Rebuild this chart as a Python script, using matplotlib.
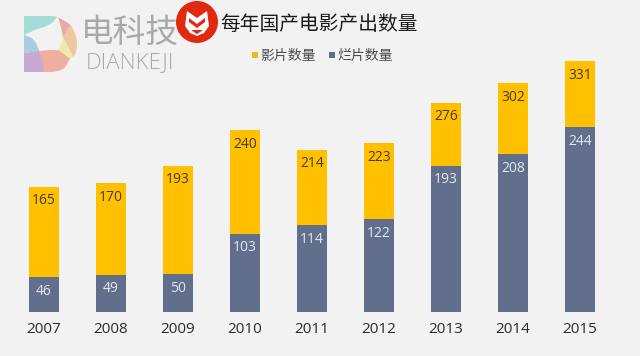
import matplotlib
matplotlib.use("Agg")
import matplotlib.pyplot as plt
from matplotlib.patches import Polygon, Circle, Rectangle, PathPatch
from matplotlib.path import Path

plt.rcParams['font.family'] = ['Noto Sans CJK SC', 'DejaVu Sans']

years = ['2007', '2008', '2009', '2010', '2011', '2012', '2013', '2014', '2015']
films = [165, 170, 193, 240, 214, 223, 276, 302, 331]
released = [46, 49, 50, 103, 114, 122, 193, 208, 244]
title = '每年国产电影产出数量'
legend_names = ['影片数量', '烂片数量']
BG, YEL, BLU = '#f2f2f2', '#FFC000', '#626F8C'
W, H = 640, 356

fig = plt.figure(figsize=(W / 100, H / 100), dpi=100, facecolor=BG)
ax = fig.add_axes([10.5 / W, (H - 311.7) / H, 603 / W, 271.7 / H], facecolor='none')
x = list(range(len(years)))
ax.bar(x, films, width=0.45, color=YEL, zorder=2)
ax.bar(x, released, width=0.45, color=BLU, zorder=3)
for i in x:
    ax.annotate(str(films[i]), (i, films[i]), xytext=(0, -10.2), textcoords='offset points',
                ha='center', va='center', fontsize=10, family='Open Sans', color='#4a3a14', zorder=4)
    ax.annotate(str(released[i]), (i, released[i]), xytext=(0, -10.2), textcoords='offset points',
                ha='center', va='center', fontsize=10, family='Open Sans', color='#e4e7ef', zorder=4)
ax.set_xlim(-0.5, 8.5)
ax.set_ylim(0, 359)
ax.set_yticks([])
ax.set_xticks(x, years, fontsize=11, family='Open Sans', color='#2b2b2b')
ax.tick_params(axis='x', length=0, pad=7.5)
for s in ax.spines.values():
    s.set_visible(False)

# Overlay in pixel coordinates for the header and logos
ov = fig.add_axes([0, 0, 1, 1], facecolor='none')
ov.set_xlim(0, W)
ov.set_ylim(H, 0)
ov.axis('off')

# D-shaped logo: coloured pieces around a background-coloured star
clip = PathPatch(Path([(24, 16), (52, 16), (70, 18), (77, 32), (77, 44), (77, 58), (68, 72), (50, 72), (24, 72), (24, 16)],
                      [1, 2, 4, 4, 4, 4, 4, 4, 2, 79]), fc='none', ec='none', transform=ov.transData)
ov.add_patch(clip)
pieces = [
    ('#a6dcd6', [(24, 16), (58, 16), (52, 23), (44, 27), (35, 30), (24, 35)]),
    ('#e9a9a4', [(58, 17), (73, 26), (63, 37), (61, 27)]),
    ('#efc8a2', [(71, 24), (80, 34), (80, 52), (73, 57), (63, 37)]),
    ('#eeeca8', [(63, 37), (73, 57), (70, 59), (64, 54), (58, 50), (61, 44)]),
    ('#eeaea0', [(40, 51), (50, 50), (58, 50), (64, 54), (70, 59), (62, 72), (43, 72)]),
    ('#c7a9d3', [(24, 53), (32, 52), (39, 50), (42, 58), (44, 72), (24, 72)]),
    ('#a9cbe4', [(24, 35), (32, 38), (36, 43), (39, 50), (32, 52), (24, 53)]),
]
for col, pts in pieces:
    p = Polygon(pts, closed=True, fc=col, ec='none')
    ov.add_patch(p)
    p.set_clip_path(clip)

ov.text(130, 33, '电科技', fontsize=23.5, color='#a8a8a8', ha='center', va='center', fontweight='light')
ov.text(130, 62.5, 'DIANKEJI', fontsize=16, color='#a8a8a8', ha='center', va='center', family='Open Sans', fontweight='light')

# Red mascot badge
ov.add_patch(Circle((197, 22), 21, fc='#E1290F', ec='none'))
ov.add_patch(Polygon([(187, 11), (197, 18), (207, 11), (209, 26), (204, 33), (197, 36), (190, 33), (185, 26)], fc='white', ec='none'))
ov.add_patch(Polygon([(189, 18), (197, 24), (205, 18), (205, 22), (197, 28), (189, 22)], fc='#E1290F', ec='none'))
ov.add_patch(Polygon([(191, 30), (203, 30), (197, 34)], fc='#E1290F', ec='none'))

ov.text(319, 24, title, fontsize=14.2, color='#1a1a1a', ha='center', va='center')

ov.add_patch(Rectangle((252, 52), 6, 6, fc='#E8B828', ec='none'))
ov.text(260, 55.5, legend_names[0], fontsize=10, color='#4c4c4c', ha='left', va='center')
ov.add_patch(Rectangle((329, 52), 6, 6, fc=BLU, ec='none'))
ov.text(337, 55.5, legend_names[1], fontsize=10, color='#4c4c4c', ha='left', va='center')

fig.savefig('out.png', dpi=100, facecolor=BG)
